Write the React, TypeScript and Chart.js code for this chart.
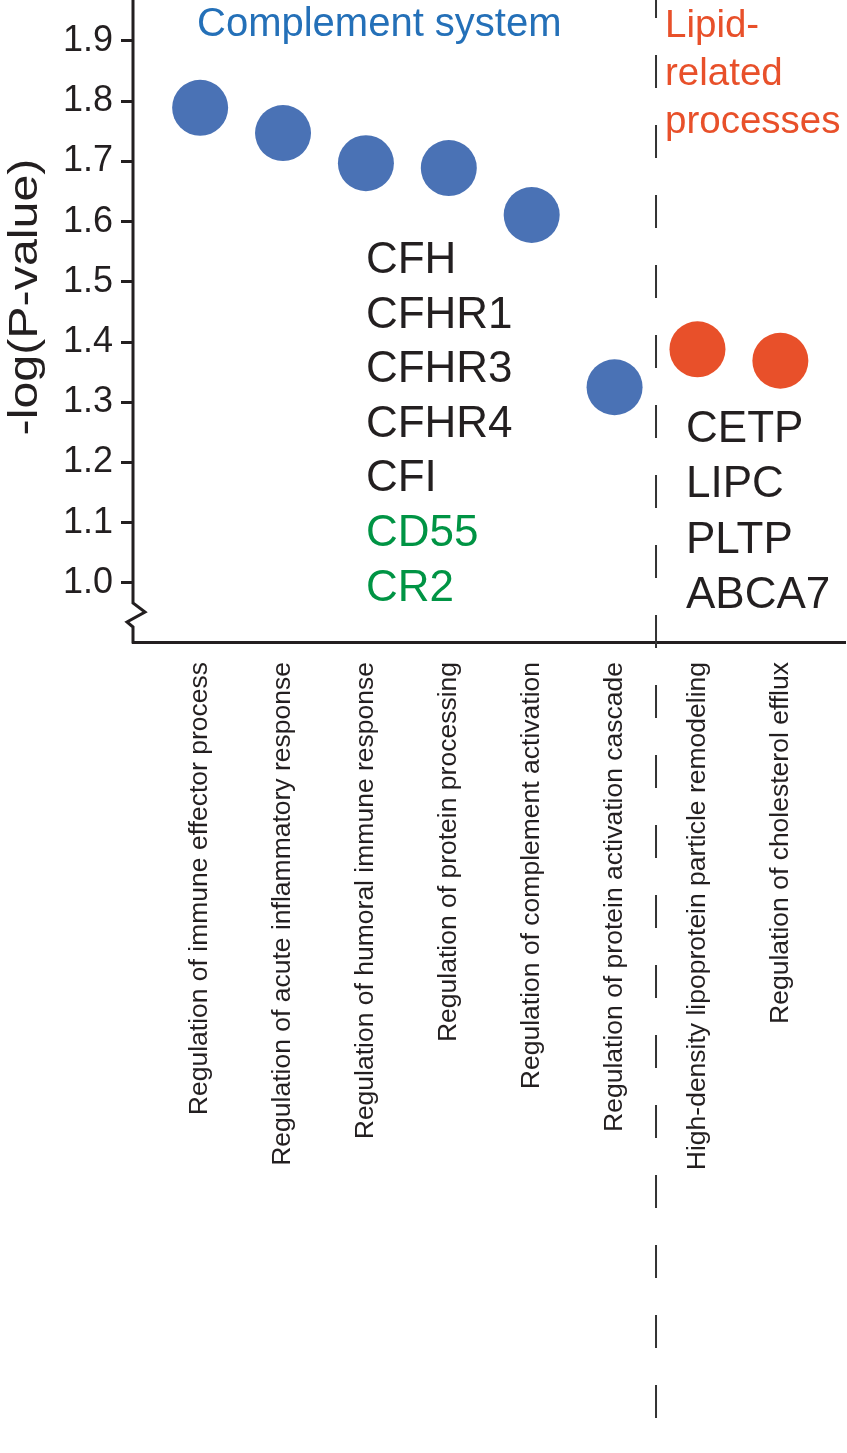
import React, { useEffect, useRef } from "react";
import { Chart, registerables } from "chart.js";
Chart.register(...registerables);

const categories = [
  "Regulation of immune effector process",
  "Regulation of acute inflammatory response",
  "Regulation of humoral immune response",
  "Regulation of protein processing",
  "Regulation of complement activation",
  "Regulation of protein activation cascade",
  "High-density lipoprotein particle remodeling",
  "Regulation of cholesterol efflux",
];
const complementValues = [1.789, 1.747, 1.697, 1.689, 1.611, 1.325];
const lipidValues = [1.388, 1.369];
const yTickValues = [1.0, 1.1, 1.2, 1.3, 1.4, 1.5, 1.6, 1.7, 1.8, 1.9];
const yTitle = "-log(P-value)";
const complementTitle = ["Complement system"];
const lipidTitle = ["Lipid-", "related", "processes"];
const complementGenes = ["CFH", "CFHR1", "CFHR3", "CFHR4", "CFI", "CD55", "CR2"];
const complementGeneColors = ["#231f20", "#231f20", "#231f20", "#231f20", "#231f20", "#009444", "#009444"];
const lipidGenes = ["CETP", "LIPC", "PLTP", "ABCA7"];

const INK = "#231f20";
const BLUE = "#4a72b5";
const ORANGE = "#e8502a";
const BLUE_TEXT = "#2470b8";
const SANS = "'Liberation Sans', Arial, sans-serif";

const overlay = {
  id: "overlay",
  afterDraw(chart: any) {
    const { ctx, chartArea, scales } = chart;
    const xs = scales.x;
    const ys = scales.y;
    const left = chartArea.left;
    ctx.save();

    // y axis line with break
    const y10 = ys.getPixelForValue(1.0);
    ctx.strokeStyle = INK;
    ctx.lineWidth = 3;
    ctx.lineJoin = "miter";
    ctx.beginPath();
    ctx.moveTo(left, 0);
    ctx.lineTo(left, y10 + 20);
    ctx.lineTo(left + 12, y10 + 29);
    ctx.lineTo(left - 6, y10 + 39);
    ctx.lineTo(left, y10 + 44);
    ctx.lineTo(left, chartArea.bottom + 1.5);
    ctx.stroke();

    // dashed separator
    const xd = xs.getPixelForValue(5.5);
    ctx.lineWidth = 2;
    ctx.strokeStyle = "#333";
    ctx.setLineDash([33, 37]);
    ctx.lineDashOffset = 15;
    ctx.beginPath();
    ctx.moveTo(xd, 0);
    ctx.lineTo(xd, chart.height);
    ctx.stroke();
    ctx.setLineDash([]);

    // y title
    ctx.save();
    ctx.translate(37, 297);
    ctx.rotate(-Math.PI / 2);
    ctx.scale(1.18, 1);
    ctx.font = `41px ${SANS}`;
    ctx.fillStyle = INK;
    ctx.textAlign = "center";
    ctx.textBaseline = "alphabetic";
    ctx.fillText(yTitle, 0, 0);
    ctx.restore();

    // group titles
    ctx.font = `40px ${SANS}`;
    ctx.textAlign = "left";
    ctx.textBaseline = "alphabetic";
    ctx.fillStyle = BLUE_TEXT;
    complementTitle.forEach((t, i) => ctx.fillText(t, 197, 36 + i * 48));
    ctx.font = `38.5px ${SANS}`;
    ctx.fillStyle = ORANGE;
    lipidTitle.forEach((t, i) => ctx.fillText(t, xd + 9, 37 + i * 48));

    // gene lists
    ctx.font = `44px ${SANS}`;
    const gx = xs.getPixelForValue(2);
    complementGenes.forEach((g, i) => {
      ctx.fillStyle = complementGeneColors[i];
      ctx.fillText(g, gx, 273 + i * 54.6);
    });
    ctx.fillStyle = INK;
    lipidGenes.forEach((g, i) => ctx.fillText(g, xd + 30, 442 + i * 55.3));

    ctx.restore();
  },
};

export default function App() {
  const ref = useRef<HTMLCanvasElement | null>(null);
  useEffect(() => {
    document.body.style.margin = "0";
    document.body.style.overflow = "hidden";
    const canvas = ref.current;
    if (!canvas) return;
    const chart = new Chart(canvas, {
      type: "scatter",
      data: {
        datasets: [
          {
            data: complementValues.map((v, i) => ({ x: i, y: v })),
            backgroundColor: BLUE,
            borderWidth: 0,
            pointRadius: 28,
            pointHoverRadius: 28,
          },
          {
            data: lipidValues.map((v, i) => ({ x: complementValues.length + i, y: v })),
            backgroundColor: ORANGE,
            borderWidth: 0,
            pointRadius: 28,
            pointHoverRadius: 28,
          },
        ],
      },
      options: {
        responsive: false,
        animation: false,
        devicePixelRatio: 1,
        layout: { autoPadding: false, padding: { top: 0, right: 2, left: 0, bottom: 0 } },
        plugins: { legend: { display: false }, tooltip: { enabled: false } },
        events: [],
        scales: {
          x: {
            type: "linear",
            min: -0.81,
            max: 7.78,
            afterBuildTicks: (s: any) => {
              s.ticks = categories.map((_, i) => ({ value: i }));
            },
            afterFit: (s: any) => {
              s.height = 811;
              s.paddingLeft = 0;
              s.paddingRight = 0;
            },
            grid: { display: false, drawTicks: false },
            border: { display: true, color: INK, width: 3 },
            ticks: {
              autoSkip: false,
              minRotation: 90,
              maxRotation: 90,
              padding: 20,
              color: INK,
              font: { family: SANS, size: 26.5 },
              callback: (v: any) => categories[Math.round(Number(v))] ?? "",
            },
          },
          y: {
            type: "linear",
            min: 0.902,
            max: 1.968,
            afterBuildTicks: (s: any) => {
              s.ticks = yTickValues.map((v) => ({ value: v }));
            },
            afterFit: (s: any) => {
              s.width = 133;
              s.paddingTop = 0;
              s.paddingBottom = 0;
            },
            grid: {
              drawOnChartArea: false,
              drawTicks: true,
              tickLength: 12,
              color: INK,
              lineWidth: 3,
            },
            border: { display: false },
            ticks: {
              padding: 8,
              color: INK,
              font: { family: SANS, size: 36 },
              callback: (v: any) => Number(v).toFixed(1),
            },
          },
        },
      },
      plugins: [overlay],
    });
    return () => chart.destroy();
  }, []);
  return (
    <div style={{ width: 847, height: 1453 }}>
      <canvas ref={ref} width={847} height={1453} style={{ display: "block" }} />
    </div>
  );
}
